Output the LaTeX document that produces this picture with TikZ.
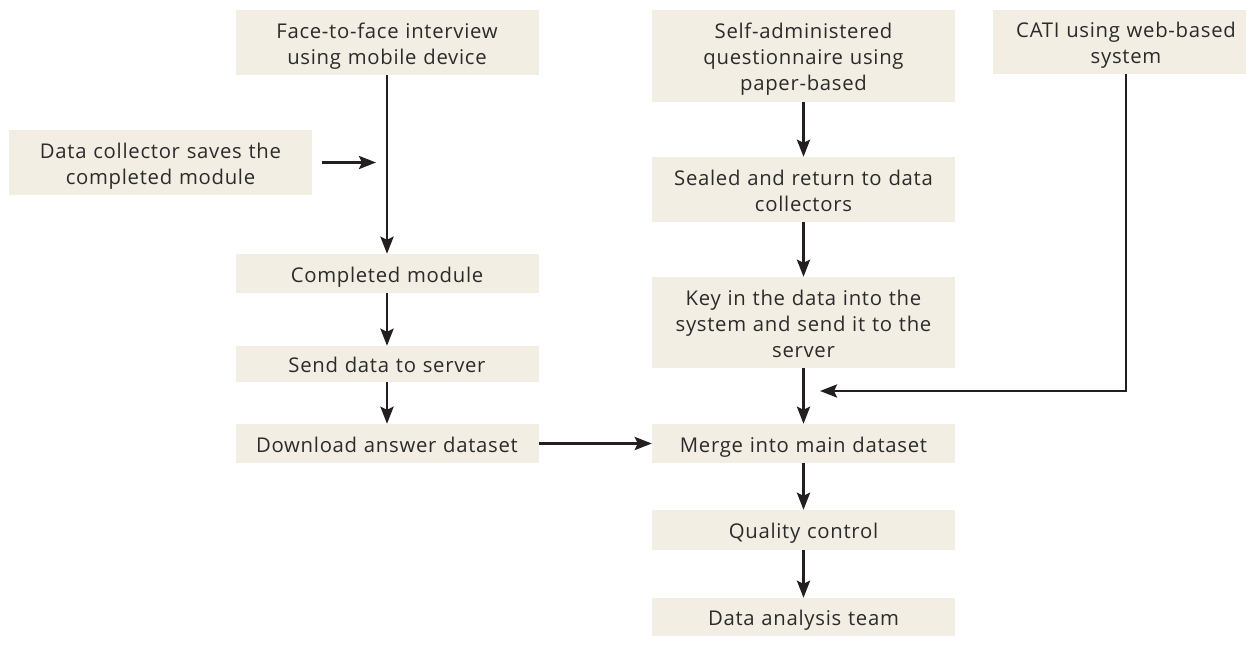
\documentclass[tikz,border=0pt]{standalone}
\usepackage{fontspec}
\setmainfont[LetterSpace=3.5]{Open Sans}
\usetikzlibrary{arrows.meta}
\definecolor{boxfill}{HTML}{F2EEE3}
\definecolor{ink}{HTML}{231F20}
\definecolor{txt}{HTML}{2B2B2B}
\tikzset{
  box/.style={fill=boxfill, draw=none, inner sep=0pt, minimum width=303pt},
  lbl/.style={text=txt, align=center, inner sep=0pt, yshift=-3.5pt, text width=300pt,
    font=\fontsize{20.3}{26}\selectfont,
    execute at begin node=\strut, execute at end node=\strut},
  conn/.style={draw=ink, line width=2.8pt, -{Stealth[length=17pt,width=13pt,inset=3pt]}}
}
\begin{document}
\begin{tikzpicture}[x=1pt,y=-1pt]
\useasboundingbox (0,0) rectangle (1246,646);
\node[box, minimum height=65pt, label={[lbl]center:Face-to-face interview\\using mobile device}] (A) at (387,42.5) {};
\node[box, minimum height=65pt, label={[lbl]center:Data collector saves the\\completed module}] (B) at (160.5,162.5) {};
\node[box, minimum height=39pt, label={[lbl]center:Completed module}] (C) at (387,273.5) {};
\node[box, minimum height=36pt, label={[lbl]center:Send data to server}] (D) at (387,364) {};
\node[box, minimum height=39pt, label={[lbl]center:Download answer dataset}] (E) at (387,443.5) {};
\node[box, minimum height=92pt, label={[lbl]center:Self-administered\\questionnaire using\\paper-based}] (F) at (803.5,56) {};
\node[box, minimum height=65pt, label={[lbl]center:Sealed and return to data\\collectors}] (G) at (803.5,189.5) {};
\node[box, minimum height=91pt, label={[lbl]center:Key in the data into the\\system and send it to the\\server}] (H) at (803.5,322.5) {};
\node[box, minimum height=39pt, label={[lbl]center:Merge into main dataset}] (I) at (803.5,443.5) {};
\node[box, minimum height=40pt, label={[lbl]center:Quality control}] (J) at (803.5,530) {};
\node[box, minimum height=38pt, label={[lbl]center:Data analysis team}] (K) at (803.5,617) {};
\node[box, minimum height=64pt, minimum width=266pt, label={[lbl]center:CATI using web-based\\system}] (L) at (1126,42) {};
\coordinate (Bs) at (322,162.5);
\coordinate (Be) at (376,162.5);
\coordinate (Lc) at (1126,391);
\coordinate (Le) at (820,391);
\draw[conn] (A.south) -- (C.north);
\draw[conn] (Bs) -- (Be);
\draw[conn] (C) -- (D);
\draw[conn] (D) -- (E);
\draw[conn] (E) -- (I);
\draw[conn] (F) -- (G);
\draw[conn] (G) -- (H);
\draw[conn] (H) -- (I);
\draw[conn] (I) -- (J);
\draw[conn] (J) -- (K);
\draw[conn] (L.south) -- (Lc) -- (Le);
\end{tikzpicture}
\end{document}
